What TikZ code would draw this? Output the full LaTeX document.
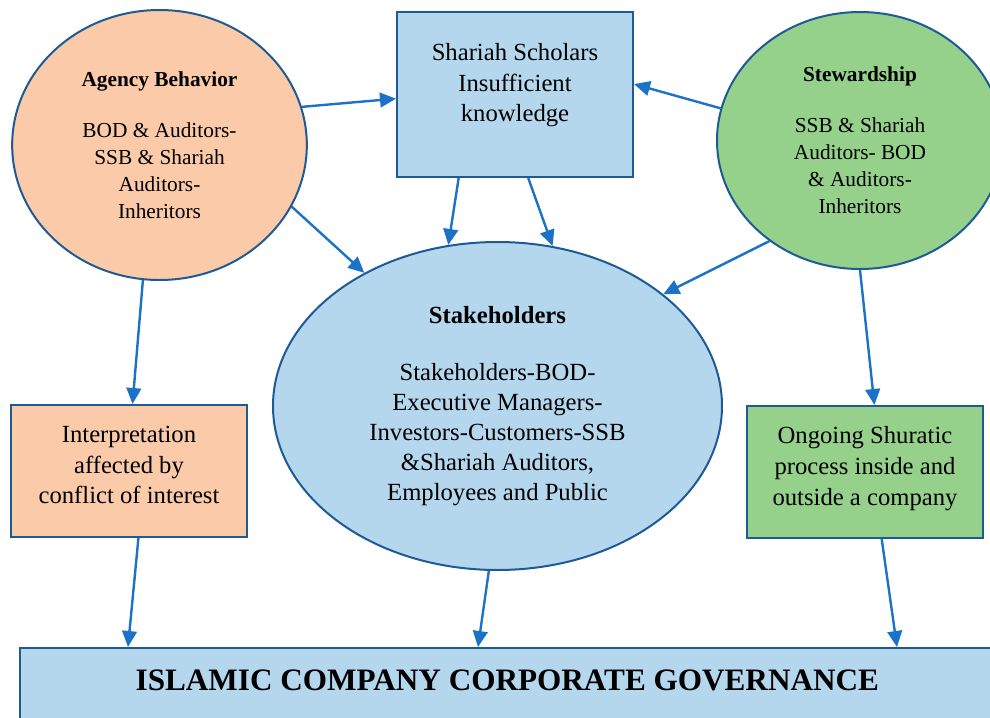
\documentclass[tikz,border=0pt]{standalone}
\usepackage{fontspec}
\setmainfont{Liberation Serif}
\usetikzlibrary{calc,arrows.meta,shapes.geometric}
\definecolor{peach}{RGB}{251,202,169}
\definecolor{skyfill}{RGB}{180,215,238}
\definecolor{leaf}{RGB}{150,209,139}
\definecolor{rim}{RGB}{30,90,150}
\definecolor{arrowblue}{RGB}{28,114,198}
\def\circtext{\fontsize{16}{20.25}\selectfont}
\def\boxtext{\fontsize{18.5}{23}\selectfont}

\begin{document}
\begin{tikzpicture}[x=0.75pt, y=-0.75pt,
	theory/.style={ellipse, draw=rim, line width=1.5pt, inner sep=0pt, align=center},
	result/.style={rectangle, draw=rim, line width=1.5pt, inner sep=0pt, align=center},
	arr/.style={-{Triangle[length=12pt,width=11pt]}, line width=1.8pt, color=arrowblue}]
			%%%%% START %%%%%
			\useasboundingbox (0, 0) rectangle (990, 718);
			
			\node[theory, fill=peach, font=\circtext, minimum width=221pt, minimum height=202.5pt] (agency) at (159.5, 145)
				{\textbf{Agency Behavior}\\[18pt]BOD \& Auditors-\\SSB \& Shariah\\Auditors-\\Inheritors};
			\node[theory, fill=leaf, font=\circtext, minimum width=214.5pt, minimum height=192.75pt] (steward) at (860, 140.5)
				{\textbf{Stewardship}\\[18pt]SSB \& Shariah\\Auditors- BOD\\\& Auditors-\\Inheritors};
			\node[theory, fill=skyfill, font=\fontsize{18.5}{22.5}\selectfont, minimum width=336.75pt, minimum height=246pt] (stake) at (497.5, 406)
				{\textbf{Stakeholders}\\[20pt]Stakeholders-BOD-\\Executive Managers-\\Investors-Customers-SSB\\\&Shariah Auditors,\\Employees and Public};
			
			\node[result, fill=skyfill, font=\boxtext, minimum width=177pt, minimum height=123.75pt] (scholars) at (515, 94.5)
				{Shariah Scholars\\Insufficient\\knowledge\\[-5pt]\mbox{}};
			\node[result, fill=peach, font=\boxtext, minimum width=177pt, minimum height=99pt] (interp) at (129, 471)
				{Interpretation\\affected by\\conflict of interest\\[-14pt]\mbox{}};
			\node[result, fill=leaf, font=\boxtext, minimum width=177pt, minimum height=99pt] (shura) at (865, 472)
				{Ongoing Shuratic\\process inside and\\outside a company\\[-14pt]\mbox{}};
			
			\node[result, fill=skyfill, anchor=north west, minimum width=731pt, inner ysep=0pt,
				text height=32pt, text depth=30pt, font=\fontsize{23.4}{27}\selectfont\bfseries] (icg) at (19, 647)
				{ISLAMIC COMPANY CORPORATE GOVERNANCE};
			
			\draw[arr] (agency.15) -- (scholars.182);
			\draw[arr] (steward.167) -- (scholars.5);
			\draw[arr] (scholars.236) -- (stake.107);
			\draw[arr] (scholars.279) -- (stake.71);
			\draw[arr] (agency.335) -- (stake.135);
			\draw[arr] (steward.228) -- (stake.34);
			
			\draw[arr] (agency.263) -- (interp.87);
			\draw[arr] (steward.270) -- (shura.82);
			
			\draw[arr] (interp.278) -- ($(icg.north west)+(109, 0)$);
			\draw[arr] (stake.267) -- ($(icg.north west)+(459, 0)$);
			\draw[arr] (shura.284) -- ($(icg.north west)+(878, 0)$);
			
			%%%%% END %%%%%
\end{tikzpicture}
\end{document}
